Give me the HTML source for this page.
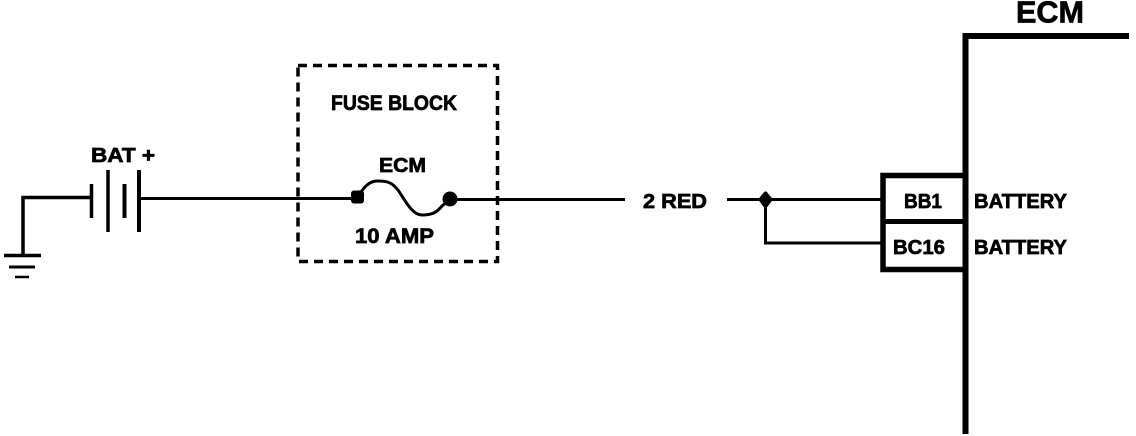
<!DOCTYPE html>
<html>
<head>
<meta charset="utf-8">
<style>
html,body{margin:0;padding:0;background:#fff;width:1136px;height:436px;overflow:hidden}
svg{display:block}
text{font-family:"Liberation Sans",sans-serif;font-weight:bold;fill:#000;stroke:#000;stroke-width:.7px}
</style>
</head>
<body>
<svg width="1136" height="436" viewBox="0 0 1136 436" xmlns="http://www.w3.org/2000/svg">
<g fill="none" stroke="#000" stroke-linecap="butt">
  <!-- ground -->
  <path d="M23 255V197.500H92" stroke-width="3.500"/>
  <path d="M4 255.500H41" stroke-width="3.500"/>
  <path d="M9 267H35" stroke-width="3"/>
  <path d="M15 277H29" stroke-width="2.500"/>
  <!-- battery -->
  <path d="M91.500 184V218" stroke-width="3.500"/>
  <path d="M108 170V232" stroke-width="3.500"/>
  <path d="M124.500 184V218" stroke-width="4"/>
  <path d="M139 170V232" stroke-width="4"/>
  <!-- wires -->
  <path d="M140 198.500H358" stroke-width="3"/>
  <path d="M450 199.500H625" stroke-width="3"/>
  <path d="M727 199.500H882" stroke-width="3"/>
  <path d="M765.500 199V243H882" stroke-width="3"/>
  <!-- fuse block -->
  <rect x="298" y="65.500" width="199.500" height="196" stroke-width="3.500" stroke-dasharray="9 6"/>
  <path d="M358 197C364 186 370 181 377 181C385 181 391 181 398 190C405 200 412 215 422 215C433 215 437 212 442 206L450 199" stroke-width="3"/>
  <!-- ECM -->
  <path d="M965.500 434V36H1129" stroke-width="6"/>
  <path d="M965 175.500H883V269.500H965" stroke-width="5.500"/>
  <path d="M883 221.500H965" stroke-width="5"/>
</g>
<rect x="351" y="190.500" width="13" height="13" rx="3" fill="#000"/>
<circle cx="450" cy="199" r="7.500" fill="#000"/>
<polygon points="765.500,193.500 770.500,199.500 765.500,206 760.500,199.500" fill="#000" stroke="#000" stroke-width="4" stroke-linejoin="round"/>
<text x="91" y="162" font-size="20" textLength="64" lengthAdjust="spacingAndGlyphs">BAT +</text>
<text x="331" y="110" font-size="21" textLength="126" lengthAdjust="spacingAndGlyphs">FUSE BLOCK</text>
<text x="379" y="172" font-size="20" textLength="47" lengthAdjust="spacingAndGlyphs">ECM</text>
<text x="355" y="243" font-size="21" textLength="79" lengthAdjust="spacingAndGlyphs">10 AMP</text>
<text x="643" y="208" font-size="20" textLength="64" lengthAdjust="spacingAndGlyphs">2 RED</text>
<text x="904" y="208" font-size="20" textLength="38" lengthAdjust="spacingAndGlyphs">BB1</text>
<text x="893" y="254" font-size="20" textLength="52" lengthAdjust="spacingAndGlyphs">BC16</text>
<text x="974" y="208" font-size="20" textLength="93" lengthAdjust="spacingAndGlyphs">BATTERY</text>
<text x="974" y="254" font-size="20" textLength="93" lengthAdjust="spacingAndGlyphs">BATTERY</text>
<text x="1016" y="22.500" font-size="31" textLength="68" lengthAdjust="spacingAndGlyphs">ECM</text>
</svg>
</body>
</html>
